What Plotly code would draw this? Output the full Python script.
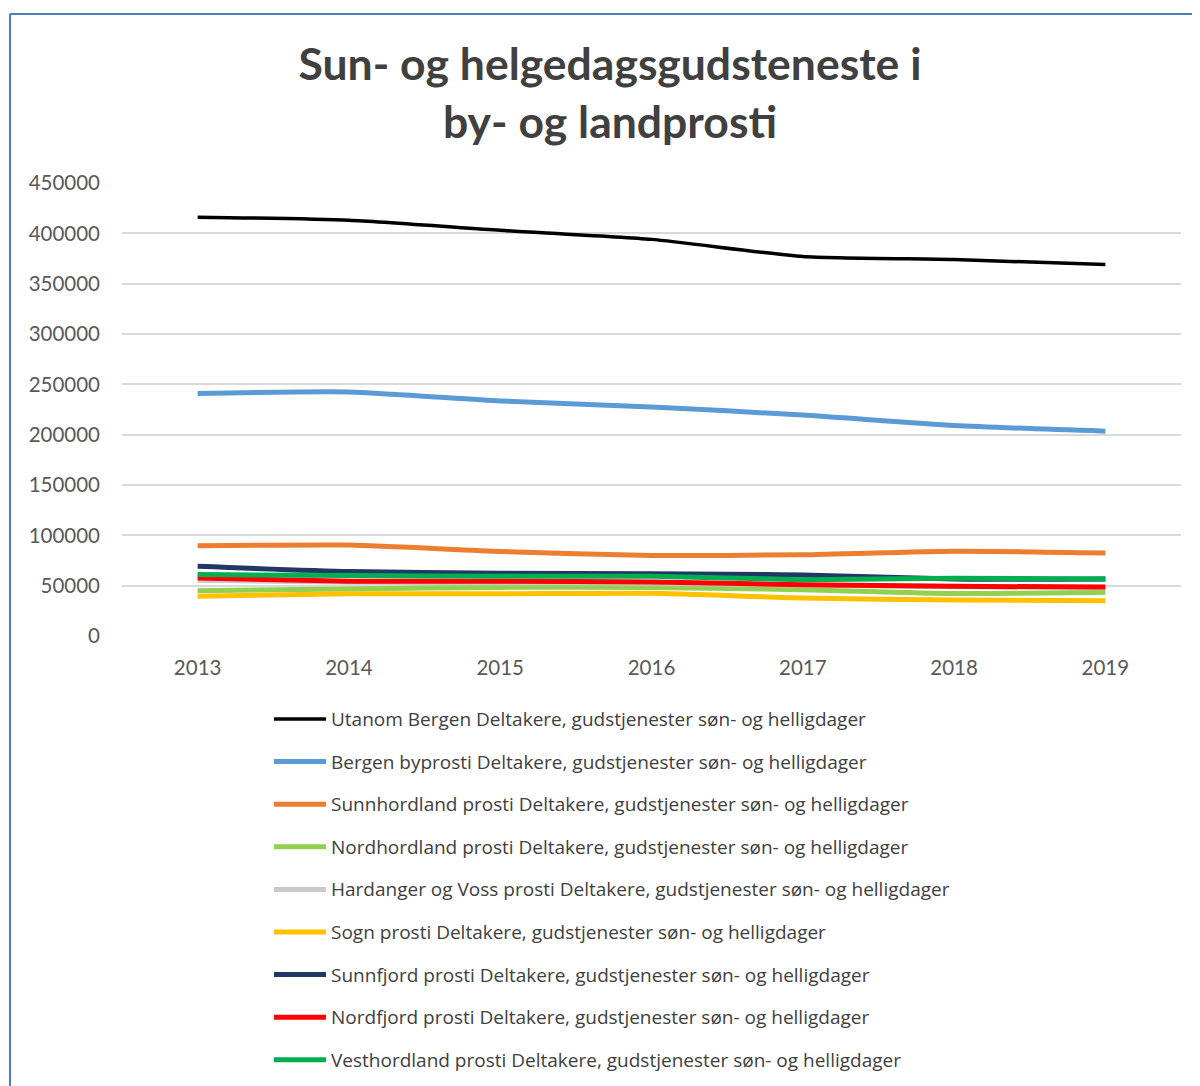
import plotly.graph_objects as go

years = ["2013", "2014", "2015", "2016", "2017", "2018", "2019"]

utanom_bergen = [416000, 413000, 403000, 394000, 377000, 374000, 369000]
bergen_byprosti = [241000, 242500, 233500, 227500, 219500, 209000, 203500]
sunnhordland = [89700, 90300, 84000, 80000, 80700, 84200, 82500]
nordhordland = [45000, 46700, 48300, 48300, 46000, 42300, 43400]
hardanger_voss = [55500, 53500, 53000, 52500, 50500, 49000, 48000]
sogn = [39400, 42000, 42000, 42400, 37700, 35800, 35100]
sunnfjord = [69200, 64000, 62300, 61800, 60700, 56500, 56500]
nordfjord = [57600, 54500, 54300, 53600, 51000, 49300, 48700]
vesthordland = [61000, 60000, 59300, 59300, 56000, 57300, 56600]

suffix = " Deltakere, gudstjenester søn- og helligdager"
names = ["Utanom Bergen", "Bergen byprosti", "Sunnhordland prosti", "Nordhordland prosti",
         "Hardanger og Voss prosti", "Sogn prosti", "Sunnfjord prosti", "Nordfjord prosti",
         "Vesthordland prosti"]
series = [utanom_bergen, bergen_byprosti, sunnhordland, nordhordland, hardanger_voss,
          sogn, sunnfjord, nordfjord, vesthordland]
colors = ["#000000", "#5B9BD5", "#ED7D31", "#92D050", "#C9C9C9", "#FFC000",
          "#203864", "#FF0000", "#00B050"]
widths = [3.5, 5, 5, 5, 5, 5, 5, 5, 5]

y_ticks = [0, 50000, 100000, 150000, 200000, 250000, 300000, 350000, 400000, 450000]

OFF = 8  # page body margin
W, H = 1200 - OFF, 1086 - OFF
# plot area in screen coordinates
SL, SR, ST, SB = 122, 1181, 183, 636
L, R, T, B = SL - OFF, SR - OFF, ST - OFF, SB - OFF
pw, ph = R - L, B - T


def px_x(sx):
    return (sx - OFF - L) / pw


def px_y(sy):
    return (B - (sy - OFF)) / ph


fig = go.Figure()
for n, s, c, w in zip(names, series, colors, widths):
    fig.add_trace(go.Scatter(
        x=years, y=s, mode="lines", name=n + suffix,
        line=dict(color=c, width=w, shape="spline", smoothing=0.6),
        showlegend=False,
    ))

shapes = []
annotations = []
# outer blue border (left and top)
shapes.append(dict(type="line", xref="paper", yref="paper",
                   x0=px_x(10), x1=px_x(10), y0=px_y(14), y1=px_y(1100),
                   line=dict(color="#4A7EBB", width=2)))
shapes.append(dict(type="line", xref="paper", yref="paper",
                   x0=px_x(10), x1=px_x(1210), y0=px_y(14), y1=px_y(14),
                   line=dict(color="#4A7EBB", width=2)))

# manual legend
leg_y0 = 719
leg_step = 42.6
for i, (n, c, w) in enumerate(zip(names, colors, widths)):
    yy = leg_y0 + i * leg_step
    shapes.append(dict(type="line", xref="paper", yref="paper",
                       x0=px_x(274), x1=px_x(326), y0=px_y(yy), y1=px_y(yy),
                       line=dict(color=c, width=w)))
    annotations.append(dict(xref="paper", yref="paper", x=px_x(329), y=px_y(yy),
                            xanchor="left", yanchor="middle", showarrow=False,
                            text=n + suffix,
                            font=dict(family="Open Sans", size=19, color="#404040")))

fig.update_layout(
    width=W, height=H,
    margin=dict(l=L, r=W - R, t=T, b=H - B),
    paper_bgcolor="white", plot_bgcolor="white",
    title=dict(text="<b>Sun- og helgedagsgudsteneste i<br>by- og landprosti</b>",
               x=(610 - OFF) / W, xanchor="center", y=1 - 72 / H, yanchor="middle",
               font=dict(family="Lato", size=44.5, color="#404040")),
    shapes=shapes, annotations=annotations,
    showlegend=False,
)
fig.update_xaxes(type="category", range=[-0.5, 6.5], showgrid=False, showline=False,
                 zeroline=False, ticks="", tickfont=dict(family="Lato", size=20.5, color="#595959"),
                 ticklabelstandoff=17)
fig.update_yaxes(range=[0, 450000], tickvals=y_ticks, ticktext=[str(v) for v in y_ticks],
                 showgrid=True, gridcolor="#D9D9D9", gridwidth=1.5, zeroline=False,
                 showline=False, ticks="", tickfont=dict(family="Lato", size=20.5, color="#595959"),
                 ticklabelstandoff=21)

fig.write_html("out.html")
